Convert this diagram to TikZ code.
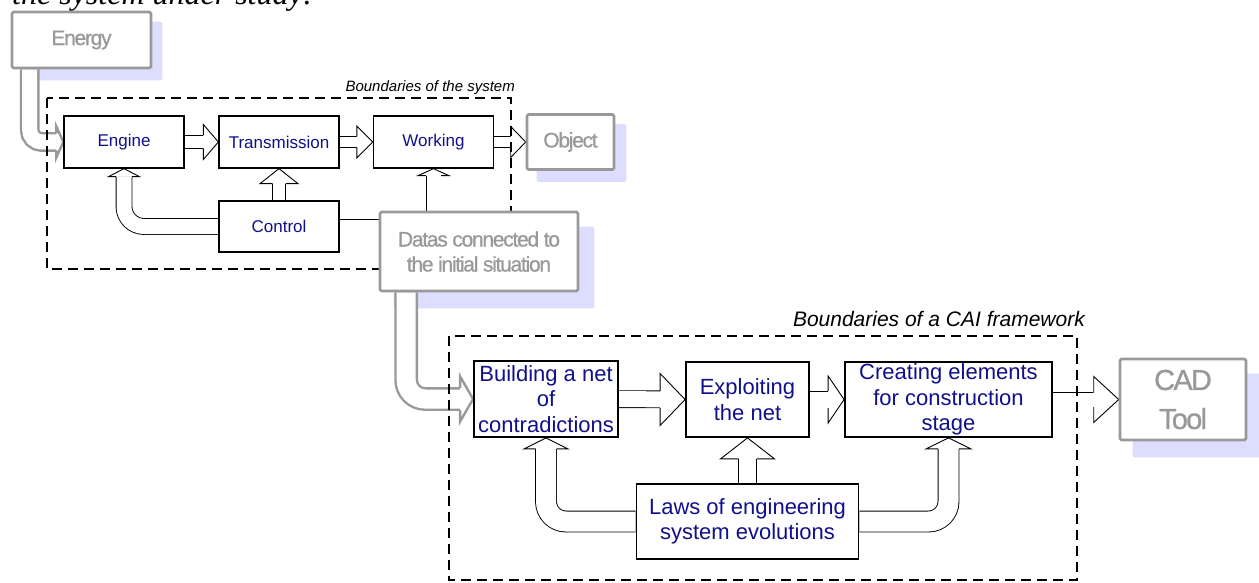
\documentclass[tikz,border=0pt]{standalone}
\usepackage{fontspec}
\setmainfont{Liberation Sans}
\newfontfamily\serifit{Liberation Serif}
\newfontfamily\squeezed[LetterSpace=-6, FakeBold=0.8]{Liberation Sans}
\usetikzlibrary{calc}

\definecolor{txtblue}{RGB}{16,16,140}
\definecolor{boxgray}{RGB}{153,153,153}
\definecolor{shadowc}{RGB}{221,221,255}

\pgfdeclarelayer{shade}
\pgfdeclarelayer{arrows}
\pgfdeclarelayer{frame}
\pgfsetlayers{shade,arrows,frame,main}

\tikzset{
  pics/bhead/.style args={#1/#2/#3}{code={
    \fill[white] (0,0) -- (-#3,-#2) -- (-#3,#2) -- cycle;
    \draw (-#3,-#1) -- (-#3,-#2) -- (0,0) -- (-#3,#2) -- (-#3,#1);
  }}
}

\begin{document}
\begin{tikzpicture}[x=1pt, y=-1pt,
    box/.style={draw, line width=1.3pt, fill=white, text=txtblue, inner sep=0pt,
      minimum width=120pt, minimum height=52pt, font=\fontsize{17}{20}\selectfont},
    caibox/.style={box, line width=1.8pt, minimum height=75pt, align=center,
      font=\fontsize{22}{25.5}\selectfont},
    graybox/.style={draw=boxgray, line width=2.6pt, rounded corners=1.5pt, fill=white,
      text=boxgray, inner sep=0pt, align=center},
    shaft/.style={line width=0.9pt, double=white, double distance=#1},
    gshaft/.style={shaft=#1, draw=boxgray, line width=2.4pt},
    bound/.style={line width=2.4pt, dash pattern=on 10pt off 6pt}]
\useasboundingbox (0,0) rectangle (1259,583);
\clip (0,0) rectangle (1259,583);

\node[anchor=base west, inner sep=0pt, font=\serifit\itshape\fontsize{32}{36}\selectfont]
  (caption) at (12,5) {the system under study:};

% the system
\node[graybox, minimum width=139pt, minimum height=56pt,
  font=\squeezed\fontsize{21}{24}\selectfont] (energy) at (81.5,40) {Energy};
\node[box] (engine) at (124,142) {Engine};
\node[box] (trans) at (279,142) {Transmission};
\node[box] (work) at (433.5,142) {Working};
\node[box, minimum height=51pt] (ctrl) at (279,226.5) {Control};
\node[graybox, minimum width=87pt, minimum height=55pt,
  font=\squeezed\fontsize{21}{24}\selectfont] (object) at (570.5,142) {Object};
\node[graybox, minimum width=198pt, minimum height=79pt,
  font=\squeezed\fontsize{21}{25}\selectfont] (datas) at (479,251.5)
  {Datas connected to\\the initial situation};

% the CAI framework
\node[caibox, minimum width=144pt, minimum height=76pt] (build) at (546,399)
  {Building a net\\of\\contradictions};
\node[caibox, minimum width=123pt] (exploit) at (747.5,399.5) {Exploiting\\the net};
\node[caibox, minimum width=207pt] (create) at (948.5,399.5)
  {Creating elements\\for construction\\stage};
\node[caibox, minimum width=222pt] (laws) at (747.5,521.5)
  {Laws of engineering\\system evolutions};
\node[graybox, minimum width=126pt, minimum height=81pt,
  font=\squeezed\fontsize{29}{39}\selectfont] (cad) at (1183,399.5) {CAD\\Tool};

\begin{pgfonlayer}{shade}
\foreach \b/\dx/\dy in {energy/10/11, object/11/11, datas/15/16, cad/14/16}{
  \fill[shadowc, rounded corners=2pt] ($(\b.north west)+(\dx,\dy)$)
    rectangle ($(\b.south east)+(\dx,\dy)$);
}
\end{pgfonlayer}

\begin{pgfonlayer}{arrows}
\draw[gshaft=15pt, rounded corners=12pt, shorten >=7pt]
  ([xshift=19pt]energy.south west) |- (engine.west);
\pic[boxgray, line width=2.4pt] at (engine.west) {bhead=8.5/15.5/7};
\draw[shaft=12pt, shorten >=15pt] (engine) -- (trans);
\pic[line width=0.9pt] at (trans.west) {bhead=6.5/17.5/15};
\draw[shaft=10pt, shorten >=16pt] (trans) -- (work);
\pic[line width=0.9pt] at (work.west) {bhead=5.5/16/16};
\draw[shaft=10pt, shorten >=15pt] (work) -- (object);
\pic[line width=0.9pt] at (object.west) {bhead=5.5/15.5/15};
\draw[shaft=12pt, shorten >=15pt] (ctrl) -- (trans);
\pic[rotate=90, line width=0.9pt] at (trans.south) {bhead=6.5/19/15};
\draw[shaft=15pt, rounded corners=20pt, shorten >=8pt] (ctrl.west) -| (engine.south);
\pic[rotate=90, line width=0.9pt] at (engine.south) {bhead=8/15.5/8};
\draw[shaft=14pt] (ctrl.east) -- (ctrl.east -| datas.west);
\draw[shaft=14pt, shorten >=7pt] (work.south |- datas.north) -- (work.south);
\pic[rotate=90, line width=0.9pt] at (work.south) {bhead=7.5/15.5/7};

\draw[gshaft=19pt, rounded corners=19pt, shorten >=13pt]
  ([xshift=27.5pt]datas.south west) |- (build.west);
\pic[boxgray, line width=2.4pt] at (build.west) {bhead=11/22.5/13};
\draw[shaft=16pt, shorten >=25pt] (build) -- (exploit);
\pic[line width=0.9pt] at (exploit.west) {bhead=8.5/26/25};
\draw[shaft=16pt, shorten >=16pt] (exploit) -- (create);
\pic[line width=0.9pt] at (create.west) {bhead=8.5/23.5/16};
\draw[shaft=14pt, shorten >=25pt] (create) -- (cad);
\pic[line width=0.9pt] at (cad.west) {bhead=7.5/23/25};
\draw[shaft=17pt, shorten >=21pt] (laws) -- (exploit);
\pic[rotate=90, line width=0.9pt] at (exploit.south) {bhead=9/27/21};
\draw[shaft=20pt, rounded corners=20pt, shorten >=11pt] (laws.east) -| (create.south);
\pic[rotate=90, line width=0.9pt] at (create.south) {bhead=10.5/22.5/11};
\draw[shaft=20pt, rounded corners=20pt, shorten >=11pt] (laws.west) -| (build.south);
\pic[rotate=90, line width=0.9pt] at (build.south) {bhead=10.5/22/11};
\end{pgfonlayer}

\begin{pgfonlayer}{frame}
\draw[bound] (47,98) rectangle (511,269);
\draw[bound] (449,336) rectangle (1077,580);
\end{pgfonlayer}
\node[anchor=base east, inner sep=0pt, font=\itshape\fontsize{15}{18}\selectfont]
  (syslabel) at (515,92) {Boundaries of the system};
\node[anchor=base east, inner sep=0pt, font=\itshape\fontsize{21}{24}\selectfont]
  (cailabel) at (1085,326) {Boundaries of a CAI framework};
\end{tikzpicture}
\end{document}
